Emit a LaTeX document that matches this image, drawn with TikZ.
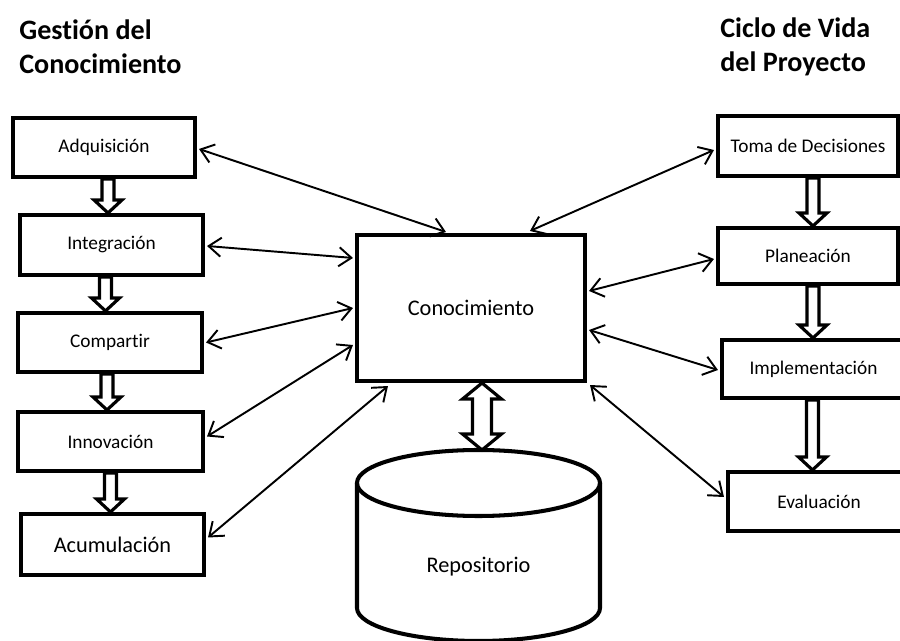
\documentclass[tikz,border=0pt]{standalone}
\usepackage{fontspec}
\setmainfont{Carlito}[Ligatures=NoCommon]
\usetikzlibrary{arrows.meta,calc,backgrounds}

\tikzset{
  size/.style n args={2}{minimum width=#1*0.02cm, minimum height=#2*0.02cm},
  stage/.style={draw, line width=2.3pt, inner sep=0pt, font=\fontsize{11}{13}\selectfont},
  bigstage/.style={stage, font=\fontsize{12.7}{15}\selectfont},
  link/.style={line width=1.1pt,
    {Straight Barb[length=2.5mm,width=3.8mm,line width=1.1pt]}-{Straight Barb[length=2.5mm,width=3.8mm,line width=1.1pt]}},
  hollow/.style={draw, line width=1.8pt, fill=white, line join=miter},
  heading/.style={font=\bfseries\fontsize{16}{19}\selectfont, anchor=base west, inner sep=0pt},
}

% hollow block arrow pointing down from node #2 to node #3, shifted by #1
\newcommand\hollowdown[3][0]{%
  \path ($(#2.south)+(#1,0)$) coordinate (hA) (hA |- #3.north) coordinate (hB);
  \draw[hollow] ($(hA)+(-6,0)$) -- ($(hB)+(-6,-13)$) -- ($(hB)+(-14,-13)$) -- (hB)
    -- ($(hB)+(14,-13)$) -- ($(hB)+(6,-13)$) -- ($(hA)+(6,0)$) -- cycle;
}

\begin{document}
\begin{tikzpicture}[x=0.02cm, y=-0.02cm]
\useasboundingbox (0,0) rectangle (900,641);

% headings
\node[heading] (h1) at (19,40) {Gestión del};
\node[heading] (h2) at (19,74) {Conocimiento};
\node[heading] (h3) at (720,38) {Ciclo de Vida};
\node[heading] (h4) at (720,72) {del Proyecto};

% knowledge management stages
\node[stage, size={182}{59}] (adq) at (104,147.5) {Adquisición};
\node[stage, size={183}{60}] (integ) at (111.5,245) {Integración};
\node[stage, size={184}{59}] (comp) at (110,342.5) {Compartir};
\node[stage, size={185}{59}] (innov) at (110.5,441.5) {Innovación};
\node[bigstage, size={183}{61}] (acum) at (112.5,544.5) {Acumulación};

% project life cycle stages
\node[stage, size={180}{60}] (toma) at (808,146) {Toma de Decisiones};
\node[stage, size={180}{56}] (plan) at (808,256) {Planeación};
\node[stage, size={183}{58}] (impl) at (813.5,369) {Implementación};
\node[stage, size={182}{59}] (eval) at (819,501.5) {Evaluación};

% central knowledge box
\node[bigstage, size={228}{146}] (conoc) at (471,308) {Conocimiento};

% repository cylinder
\draw[line width=2.3pt] (357,483) -- (357,608)
  arc[start angle=180, end angle=0, x radius=121.5, y radius=33] -- (600,483);
\draw[line width=2.3pt] (478.5,483) ellipse[x radius=121.5, y radius=33];
\node[font=\fontsize{12.7}{15}\selectfont] (repo) at (478.5,567) {Repositorio};
\coordinate (repotop) at (482,450);

% block arrows behind the boxes
\begin{scope}[on background layer]
  \hollowdown[4]{adq}{integ}
  \hollowdown[-6]{integ}{comp}
  \hollowdown[-3]{comp}{innov}
  \hollowdown[0]{innov}{acum}
  \hollowdown[5]{toma}{plan}
  \hollowdown[5]{plan}{impl}
  \hollowdown[-1]{impl}{eval}
  % two-way block arrow between knowledge and repository
  \path ($(conoc.south)+(11,0)$) coordinate (dT) (dT |- repotop) coordinate (dB);
  \draw[hollow] (dT) -- ($(dT)+(19.5,16)$) -- ($(dT)+(9.5,16)$) -- ($(dB)+(9.5,-16)$)
    -- ($(dB)+(19.5,-16)$) -- (dB) -- ($(dB)+(-19.5,-16)$) -- ($(dB)+(-9.5,-16)$)
    -- ($(dT)+(-9.5,16)$) -- ($(dT)+(-19.5,16)$) -- cycle;
\end{scope}

% two-way links to the knowledge box
\draw[link] ($(adq.east)+(2,1.5)$) -- ($(conoc.north west)+(91,-1)$);
\draw[link] ($(integ.east)+(2,1)$) -- ($(conoc.north west)+(-2,25)$);
\draw[link] ($(comp.east)+(2,0)$) -- ($(conoc.west)+(-2,0)$);
\draw[link] ($(innov.east)+(2,-5)$) -- ($(conoc.north west)+(-2,112)$);
\draw[link] ($(acum.east)+(2,-7)$) -- ($(conoc.south west)+(33,3)$);
\draw[link] ($(toma.west)+(-2,4)$) -- ($(conoc.north west)+(175,-2)$);
\draw[link] ($(plan.west)+(-2,3)$) -- ($(conoc.north east)+(2,58)$);
\draw[link] ($(impl.west)+(-2,1)$) -- ($(conoc.north east)+(2,97)$);
\draw[link] ($(eval.west)+(-2,-4.5)$) -- ($(conoc.south east)+(3,2)$);
\end{tikzpicture}
\end{document}
